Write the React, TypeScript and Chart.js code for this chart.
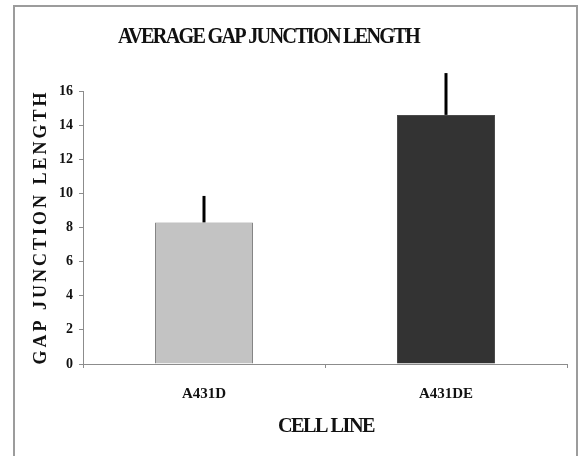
import React, { useEffect, useRef } from "react";
import { Chart, registerables } from "chart.js";

Chart.register(...registerables);

const categories: string[] = ["A431D", "A431DE"];
const meanLength: number[] = [8.3, 14.6];
const errorLength: number[] = [1.55, 2.45];
const barColors: string[] = ["#c3c3c3", "#333333"];
const barBorders: string[] = ["#858585", "#4a4a4a"];
const chartTitle = "AVERAGE GAP JUNCTION LENGTH";
const yTitle = "GAP JUNCTION LENGTH";
const xTitle = "CELL LINE";

const FONT = "'Liberation Serif', 'Times New Roman', serif";

function drawFitted(ctx: CanvasRenderingContext2D, text: string, cx: number, cy: number, width: number) {
  const natural = ctx.measureText(text).width;
  const sx = width / natural;
  ctx.save();
  ctx.translate(cx, cy);
  ctx.scale(sx, 1);
  ctx.fillText(text, 0, 0);
  ctx.restore();
}

const decorPlugin = {
  id: "decor",
  beforeDraw(chart: any) {
    const ctx = chart.ctx as CanvasRenderingContext2D;
    ctx.save();
    ctx.strokeStyle = "#9c9c9c";
    ctx.lineWidth = 2;
    ctx.beginPath();
    ctx.moveTo(14, 460);
    ctx.lineTo(14, 6);
    ctx.lineTo(577, 6);
    ctx.lineTo(577, 460);
    ctx.stroke();
    ctx.restore();
  },
  afterDraw(chart: any) {
    const ctx = chart.ctx as CanvasRenderingContext2D;
    ctx.save();
    ctx.fillStyle = "#111111";
    ctx.textAlign = "center";
    ctx.textBaseline = "middle";
    // main title
    ctx.font = `bold 23px ${FONT}`;
    (ctx as any).letterSpacing = "-2px";
    drawFitted(ctx, chartTitle, 268.5, 37, 301);
    // x title
    ctx.font = `bold 20px ${FONT}`;
    (ctx as any).letterSpacing = "-1.5px";
    drawFitted(ctx, xTitle, 326, 427, 96);
    // y title
    ctx.translate(40, 227);
    ctx.rotate(-Math.PI / 2);
    ctx.font = `bold 18px ${FONT}`;
    (ctx as any).letterSpacing = "3px";
    ctx.fillText(yTitle, 0, 1);
    ctx.restore();
  },
};

const errorBarPlugin = {
  id: "errorBars",
  afterDatasetsDraw(chart: any) {
    const ctx = chart.ctx as CanvasRenderingContext2D;
    const meta = chart.getDatasetMeta(0);
    const yScale = chart.scales.y;
    ctx.save();
    ctx.strokeStyle = "#000000";
    ctx.lineWidth = 3;
    meta.data.forEach((bar: any, i: number) => {
      const top = yScale.getPixelForValue(meanLength[i] + errorLength[i]);
      const base = yScale.getPixelForValue(meanLength[i]);
      ctx.beginPath();
      ctx.moveTo(bar.x, base);
      ctx.lineTo(bar.x, top);
      ctx.stroke();
    });
    ctx.restore();
  },
};

export default function App() {
  const ref = useRef<HTMLCanvasElement | null>(null);
  useEffect(() => {
    if (!ref.current) return;
    const chart = new Chart(ref.current, {
      type: "bar",
      data: {
        labels: categories,
        datasets: [
          {
            data: meanLength,
            backgroundColor: barColors,
            borderColor: barBorders,
            borderWidth: 1,
            categoryPercentage: 1,
            barPercentage: 0.405,
          },
        ],
      },
      options: {
        animation: false,
        responsive: false,
        devicePixelRatio: 1,
        layout: { padding: { top: 91, right: 11, bottom: 0, left: 0 } },
        plugins: {
          legend: { display: false },
          title: { display: false },
          tooltip: { enabled: false },
        },
        scales: {
          x: {
            afterFit: (s: any) => {
              s.height = 92;
            },
            border: { color: "#8c8c8c", width: 1 },
            grid: {
              offset: true,
              drawOnChartArea: false,
              drawTicks: true,
              tickLength: 4,
              color: "#8c8c8c",
            },
            ticks: {
              color: "#111111",
              padding: 17,
              font: { family: FONT, size: 15, weight: "bold" },
            },
          },
          y: {
            min: 0,
            max: 16,
            afterFit: (s: any) => {
              s.width = 83;
            },
            border: { color: "#8c8c8c", width: 1 },
            grid: {
              drawOnChartArea: false,
              drawTicks: true,
              tickLength: 4,
              color: "#8c8c8c",
            },
            ticks: {
              stepSize: 2,
              color: "#111111",
              padding: 6,
              font: { family: FONT, size: 14, weight: "bold" },
            },
          },
        },
      },
      plugins: [decorPlugin, errorBarPlugin],
    });
    return () => chart.destroy();
  }, []);
  return (
    <div style={{ position: "fixed", left: 0, top: 0, width: 578, height: 456, background: "#fff" }}>
      <canvas ref={ref} width={578} height={456} style={{ display: "block" }} />
    </div>
  );
}
